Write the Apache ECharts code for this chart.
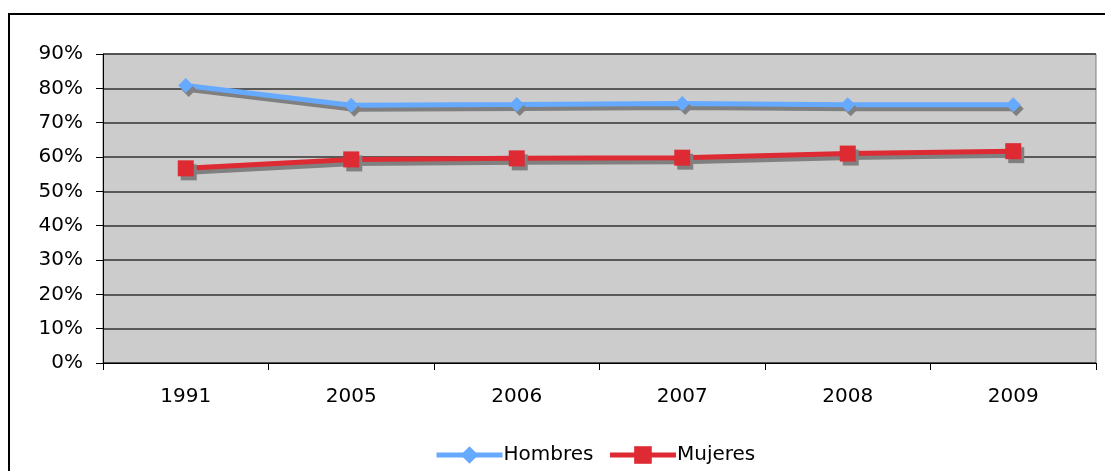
<!DOCTYPE html>
<html><head><meta charset="utf-8">
<script src="https://cdn.jsdelivr.net/npm/echarts@6/dist/echarts.min.js"></script>
<style>html,body{margin:0;padding:0;background:#fff}#c{width:1105px;height:471px}</style>
</head><body><div id="c"></div>
<script>
const categories = ['1991','2005','2006','2007','2008','2009'];
const hombres = [80.8, 75.1, 75.3, 75.6, 75.2, 75.2];
const mujeres = [56.7, 59.3, 59.6, 59.8, 61.0, 61.7];
const yTicks = [0,10,20,30,40,50,60,70,80,90];

const font = 'DejaVu Sans, Verdana, sans-serif';
const chart = echarts.init(document.getElementById('c'));
const shadow = {shadowColor:'#808080', shadowBlur:0, shadowOffsetX:3, shadowOffsetY:4};
chart.setOption({
  animation:false,
  grid:{left:103, right:9, top:54, bottom:108, show:true, backgroundColor:'#cccccc', borderColor:'#808080', borderWidth:1},
  graphic:[{type:'rect', shape:{x:9,y:14,width:1200,height:600}, style:{fill:'none', stroke:'#000', lineWidth:2}, silent:true, z:-1}],
  legend:{top:445, left:434, itemWidth:66, itemHeight:22, itemGap:14, padding:0,
    lineStyle:{width:5}, itemStyle:{shadowOffsetX:0, shadowOffsetY:0},
    textStyle:{fontFamily:font, fontSize:20, color:'#000', padding:[0,0,0,-4]},
    data:['Hombres','Mujeres']},
  xAxis:{type:'category', data:categories, boundaryGap:true,
    axisLine:{lineStyle:{color:'#000', width:1}},
    axisTick:{show:true, length:7, lineStyle:{color:'#000'}},
    axisLabel:{fontFamily:font, fontSize:20, color:'#000', margin:24}},
  yAxis:{type:'value', min:0, max:90, interval:10,
    axisLine:{show:true, lineStyle:{color:'#000'}},
    axisTick:{show:true, length:7, inside:false, lineStyle:{color:'#000'}},
    splitLine:{lineStyle:{color:'#333', width:1.5}},
    axisLabel:{fontFamily:font, fontSize:20, color:'#000', margin:20,
      formatter:v=> yTicks.includes(v) ? v+'%' : ''}},
  series:[
    {name:'Hombres', type:'line', data:hombres, symbol:'diamond', symbolSize:15,
      lineStyle:Object.assign({color:'#66aaff', width:5}, shadow),
      itemStyle:Object.assign({color:'#66aaff'}, shadow)},
    {name:'Mujeres', type:'line', data:mujeres, symbol:'rect', symbolSize:16,
      lineStyle:Object.assign({color:'#dd2a33', width:5}, shadow),
      itemStyle:Object.assign({color:'#dd2a33'}, shadow)}
  ]
});
</script></body></html>
